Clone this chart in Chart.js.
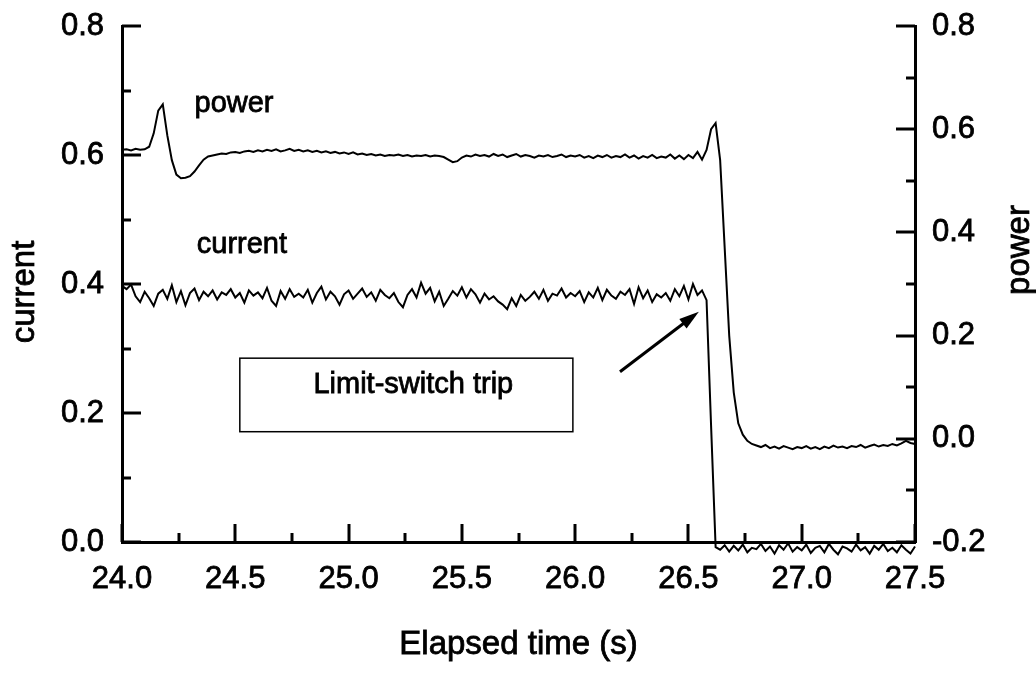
<!DOCTYPE html>
<html>
<head>
<meta charset="utf-8">
<script src="https://cdn.jsdelivr.net/npm/chart.js@4.4.0/dist/chart.umd.min.js"></script>
<style>
  html, body { margin: 0; padding: 0; background: #fff; }
</style>
</head>
<body>
<canvas id="chart1" width="1036" height="676"></canvas>
<script>
// samples every 0.02 s starting at 24.00 s
var tStart = 24.0;
var tStep = 0.02;

var power = [
  0.560, 0.561, 0.559, 0.562, 0.560, 0.561, 0.566, 0.592, 0.636, 0.648,
  0.588, 0.540, 0.512, 0.505, 0.506, 0.509, 0.518, 0.530, 0.541, 0.547,
  0.549, 0.551, 0.553, 0.552, 0.555, 0.556, 0.554, 0.557, 0.558, 0.556,
  0.559, 0.557, 0.560, 0.558, 0.561, 0.557, 0.559, 0.562, 0.558, 0.560,
  0.557, 0.559, 0.556, 0.558, 0.555, 0.557, 0.554, 0.556, 0.553, 0.555,
  0.552, 0.555, 0.551, 0.553, 0.550, 0.552, 0.549, 0.551, 0.548, 0.550,
  0.549, 0.551, 0.548, 0.550, 0.547, 0.549, 0.548, 0.550, 0.547, 0.549,
  0.548, 0.546, 0.541, 0.536, 0.538, 0.545, 0.549, 0.547, 0.551, 0.548,
  0.550, 0.547, 0.552, 0.548, 0.551, 0.546, 0.549, 0.552, 0.547, 0.550,
  0.548, 0.545, 0.549, 0.547, 0.550, 0.546, 0.548, 0.551, 0.546, 0.549,
  0.547, 0.550, 0.545, 0.548, 0.544, 0.549, 0.546, 0.550, 0.545, 0.548,
  0.546, 0.551, 0.545, 0.549, 0.543, 0.548, 0.545, 0.550, 0.544, 0.547,
  0.545, 0.551, 0.543, 0.549, 0.542, 0.550, 0.544, 0.556, 0.541, 0.560,
  0.600, 0.612, 0.540, 0.370, 0.200, 0.090, 0.030, 0.008, -0.004, -0.010,
  -0.013, -0.016, -0.012, -0.018, -0.015, -0.019, -0.014, -0.017, -0.020, -0.016,
  -0.018, -0.014, -0.019, -0.016, -0.020, -0.015, -0.018, -0.013, -0.017, -0.015,
  -0.018, -0.014, -0.016, -0.012, -0.017, -0.014, -0.011, -0.015, -0.012, -0.014,
  -0.010, -0.013, -0.009, -0.004, -0.008, -0.010
];

var current = [
  0.397, 0.392, 0.399, 0.381, 0.372, 0.388, 0.378, 0.366, 0.385, 0.391,
  0.377, 0.398, 0.372, 0.389, 0.367, 0.386, 0.393, 0.375, 0.388, 0.381,
  0.390, 0.376, 0.387, 0.383, 0.392, 0.379, 0.386, 0.371, 0.390, 0.382,
  0.387, 0.378, 0.394, 0.374, 0.366, 0.389, 0.377, 0.392, 0.380, 0.385,
  0.379, 0.391, 0.371, 0.386, 0.396, 0.376, 0.388, 0.381, 0.368, 0.384,
  0.390, 0.377, 0.385, 0.393, 0.380, 0.387, 0.374, 0.391, 0.383, 0.378,
  0.386, 0.372, 0.364, 0.383, 0.392, 0.379, 0.402, 0.385, 0.394, 0.373,
  0.388, 0.366, 0.377, 0.389, 0.382, 0.395, 0.379, 0.392, 0.384, 0.371,
  0.385, 0.376, 0.381, 0.373, 0.368, 0.361, 0.378, 0.366, 0.383, 0.374,
  0.380, 0.388, 0.377, 0.391, 0.374, 0.385, 0.382, 0.393, 0.379, 0.386,
  0.381, 0.389, 0.372, 0.387, 0.379, 0.394, 0.375, 0.391, 0.382, 0.377,
  0.388, 0.383, 0.392, 0.369, 0.395, 0.378, 0.390, 0.372, 0.384, 0.379,
  0.386, 0.374, 0.392, 0.381, 0.397, 0.376, 0.400, 0.383, 0.390, 0.375,
  0.180, -0.008, -0.012, -0.005, -0.015, -0.006, -0.013, -0.004, -0.016, -0.009,
  -0.011, -0.003, -0.014, -0.007, -0.018, -0.005, -0.012, -0.002, -0.015, -0.008,
  -0.013, -0.004, -0.017, -0.009, -0.006, -0.016, -0.003, -0.012, -0.019, -0.007,
  -0.010, -0.015, -0.004, -0.013, -0.008, -0.018, -0.006, -0.012, -0.003, -0.014,
  -0.009, -0.016, -0.005, -0.012, -0.018, -0.007
];

// axis ranges and tick spacing
var xRange = [24.0, 27.5], xMajor = 0.5, xMinor = 0.25;
var curRange = [0.0, 0.8], curMajor = 0.2, curMinor = 0.1;
var powRange = [-0.2, 0.8], powMajor = 0.2, powMinor = 0.1;

var FONT = "'Liberation Sans', Arial, sans-serif";

function pts(vals) {
  return vals.map(function (v, i) { return { x: tStart + i * tStep, y: v }; });
}

// inward tick marks, axis titles and the annotations
var decor = {
  id: 'decor',
  afterDraw: function (chart) {
    var ctx = chart.ctx, a = chart.chartArea;
    var sx = chart.scales.x, sl = chart.scales.y, sr = chart.scales.y1;
    ctx.save();
    ctx.strokeStyle = '#000';
    ctx.fillStyle = '#000';
    ctx.lineWidth = 3;

    function seg(x1, y1, x2, y2) {
      ctx.beginPath(); ctx.moveTo(x1, y1); ctx.lineTo(x2, y2); ctx.stroke();
    }
    function isMajor(v, lo, step) {
      var k = (v - lo) / step;
      return Math.abs(k - Math.round(k)) < 1e-6;
    }
    function text(s, x, y) {
      ctx.lineWidth = 0.8;
      ctx.strokeText(s, x, y);
      ctx.fillText(s, x, y);
    }
    var v;
    for (v = xRange[0]; v <= xRange[1] + 1e-9; v += xMinor) {
      var px = Math.round(sx.getPixelForValue(v));
      seg(px, a.bottom, px, a.bottom - (isMajor(v, xRange[0], xMajor) ? 18 : 9));
    }
    for (v = curRange[0]; v <= curRange[1] + 1e-9; v += curMinor) {
      var py = Math.round(sl.getPixelForValue(v));
      seg(a.left, py, a.left + (isMajor(v, curRange[0], curMajor) ? 19 : 9), py);
    }
    for (v = powRange[0]; v <= powRange[1] + 1e-9; v += powMinor) {
      var pr = Math.round(sr.getPixelForValue(v));
      seg(a.right, pr, a.right - (isMajor(v, powRange[0], powMajor) ? 19 : 9), pr);
    }

    // axis titles
    ctx.font = '33px ' + FONT;
    ctx.textAlign = 'center';
    ctx.textBaseline = 'middle';
    text('Elapsed time (s)', (a.left + a.right) / 2, 645);
    ctx.save();
    ctx.translate(25, 292);
    ctx.rotate(-Math.PI / 2);
    text('current', 0, 0);
    ctx.restore();
    ctx.save();
    ctx.translate(1020, 250);
    ctx.rotate(-Math.PI / 2);
    text('power', 0, 0);
    ctx.restore();

    // trace labels
    ctx.font = '29px ' + FONT;
    ctx.textAlign = 'left';
    ctx.textBaseline = 'alphabetic';
    text('power', sx.getPixelForValue(24.32), sl.getPixelForValue(0.667));
    text('current', sx.getPixelForValue(24.33), sl.getPixelForValue(0.448));

    // note box
    var bx1 = sx.getPixelForValue(24.52), bx2 = sx.getPixelForValue(25.99);
    var by1 = sl.getPixelForValue(0.285), by2 = sl.getPixelForValue(0.171);
    ctx.lineWidth = 1.5;
    ctx.strokeRect(bx1, by1, bx2 - bx1, by2 - by1);
    ctx.textAlign = 'center';
    text('Limit-switch trip', (bx1 + bx2) / 2 + 7, by1 + 35);

    // arrow
    var ax1 = sx.getPixelForValue(26.198), ay1 = sl.getPixelForValue(0.264);
    var ax2 = sx.getPixelForValue(26.546), ay2 = sl.getPixelForValue(0.357);
    var ang = Math.atan2(ay2 - ay1, ax2 - ax1);
    ctx.lineWidth = 3;
    seg(ax1, ay1, ax2 - 14 * Math.cos(ang), ay2 - 14 * Math.sin(ang));
    ctx.beginPath();
    ctx.moveTo(ax2, ay2);
    ctx.lineTo(ax2 - 20 * Math.cos(ang) + 6 * Math.sin(ang), ay2 - 20 * Math.sin(ang) - 6 * Math.cos(ang));
    ctx.lineTo(ax2 - 20 * Math.cos(ang) - 6 * Math.sin(ang), ay2 - 20 * Math.sin(ang) + 6 * Math.cos(ang));
    ctx.closePath();
    ctx.fill();
    ctx.restore();
  }
};

var tickFont = { family: FONT, size: 31 };

new Chart("chart1", {
  type: "line",
  data: {
    datasets: [{
      label: 'power',
      yAxisID: 'y1',
      data: pts(power),
      borderColor: '#000',
      borderWidth: 2,
      pointRadius: 0,
      tension: 0,
      fill: false,
      clip: false
    },
    {
      label: 'current',
      yAxisID: 'y',
      data: pts(current),
      borderColor: '#000',
      borderWidth: 2,
      pointRadius: 0,
      tension: 0,
      fill: false,
      clip: false
    }]
  },
  options: {
    responsive: false,
    animation: false,
    devicePixelRatio: 1,
    layout: { padding: { top: 26, left: 0, right: 0, bottom: 0 } },
    plugins: {
      legend: { display: false },
      tooltip: { enabled: false }
    },
    scales: {
      x: {
        type: 'linear',
        min: xRange[0],
        max: xRange[1],
        grid: { display: false, drawTicks: false },
        border: { display: true, color: '#000', width: 3 },
        ticks: {
          stepSize: xMajor,
          color: '#000',
          font: tickFont,
          padding: 19,
          maxRotation: 0,
          textStrokeColor: '#000',
          textStrokeWidth: 0.8,
          callback: function (v) { return Number(v).toFixed(1); }
        },
        afterFit: function (s) { s.height = 134; }
      },
      y: {
        position: 'left',
        min: curRange[0],
        max: curRange[1],
        grid: { display: false, drawTicks: false },
        border: { display: true, color: '#000', width: 3 },
        ticks: {
          stepSize: curMajor,
          color: '#000',
          font: tickFont,
          padding: 18,
          textStrokeColor: '#000',
          textStrokeWidth: 0.8,
          callback: function (v) { return Number(v).toFixed(1); }
        },
        afterFit: function (s) { s.width = 122; s.paddingTop = 0; s.paddingBottom = 0; }
      },
      y1: {
        position: 'right',
        min: powRange[0],
        max: powRange[1],
        grid: { display: false, drawTicks: false },
        border: { display: true, color: '#000', width: 3 },
        ticks: {
          stepSize: powMajor,
          color: '#000',
          font: tickFont,
          padding: 17,
          textStrokeColor: '#000',
          textStrokeWidth: 0.8,
          callback: function (v) { return Number(v).toFixed(1); }
        },
        afterFit: function (s) { s.width = 121; s.paddingTop = 0; s.paddingBottom = 0; }
      }
    }
  },
  plugins: [decor]
});
</script>
</body>
</html>
